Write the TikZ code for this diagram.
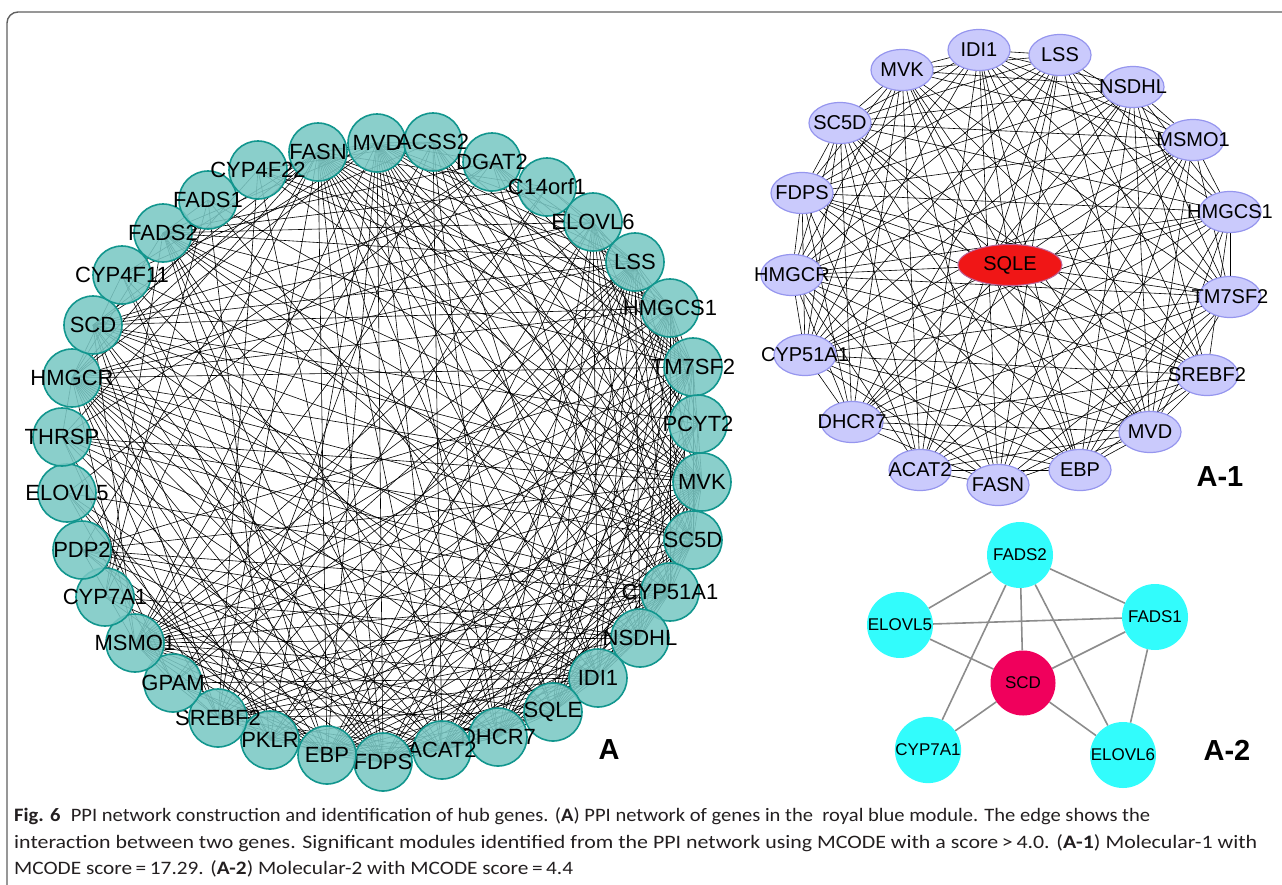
\documentclass[tikz,border=0pt]{standalone}
\usepackage{graphicx}
\usepackage{fontspec}
\setmainfont{Liberation Sans}
\newfontfamily\capfont{Carlito}
\usetikzlibrary{shapes.geometric,backgrounds}
\definecolor{tealfill}{RGB}{122,200,196}
\definecolor{tealdraw}{RGB}{18,150,142}
\definecolor{lavfill}{RGB}{202,202,252}
\definecolor{lavdraw}{RGB}{150,150,238}
\definecolor{sqlered}{RGB}{240,22,22}
\definecolor{cyannode}{RGB}{50,252,252}
\definecolor{scdred}{RGB}{240,0,92}
\definecolor{grayedge}{RGB}{140,140,140}
\definecolor{captext}{RGB}{35,31,32}
\definecolor{framegray}{RGB}{95,95,95}
\begin{document}
\begin{tikzpicture}[x=1pt,y=-1pt,
  anode/.style={circle,minimum size=58pt,inner sep=0pt,fill=tealfill,fill opacity=0.88,text opacity=1,draw=tealdraw,draw opacity=1,line width=1.6pt,font=\fontsize{22}{22}\selectfont},
  aedge/.style={line width=0.6pt,black},
  bnode/.style={ellipse,minimum width=62pt,minimum height=41pt,inner sep=0pt,fill=lavfill,draw=lavdraw,line width=1.2pt,font=\fontsize{20}{20}\selectfont},
  hubnode/.style={ellipse,minimum width=104pt,minimum height=41pt,inner sep=0pt,fill=sqlered,draw=lavdraw!60!sqlered,line width=1pt,font=\fontsize{20}{20}\selectfont},
  bedge/.style={line width=0.6pt,black},
  cnode/.style={circle,minimum size=66pt,inner sep=0pt,fill=cyannode,font=\fontsize{17}{17}\selectfont},
  scdnode/.style={circle,minimum size=65pt,inner sep=0pt,fill=scdred,font=\fontsize{17}{17}\selectfont},
  cedge/.style={line width=1.6pt,grayedge},
  panel/.style={font=\bfseries\fontsize{29}{29}\selectfont},
  captxt/.style={anchor=base west,inner sep=0pt,text=captext,font=\capfont\fontsize{19}{19}\selectfont},
  frame/.style={draw=framegray,line width=1.4pt,rounded corners=11pt}
]
\useasboundingbox (0,0) rectangle (1282,884);
\draw[frame] (7,12) rectangle (1330,930);

% ---------- Network A ----------
\foreach \lab/\x/\y/\w [count=\i] in {
  FASN/318/152/1, MVD/377/143/1, ACSS2/433/142/0.5, DGAT2/492/162/0.45,
  C14orf1/547/187/0.4, ELOVL6/593/222/0.6, LSS/635/262/1, HMGCS1/670/308/1,
  TM7SF2/693/367/1, PCYT2/698/424/0.45, MVK/702/482/1, SC5D/693/540/1,
  CYP51A1/670/592/1, NSDHL/640/638/1, IDI1/598/678/1, SQLE/553/712/1,
  DHCR7/498/737/1, ACAT2/442/750/1, FDPS/383/762/1, EBP/327/755/1,
  PKLR/270/740/0.4, SREBF2/218/718/1, GPAM/173/683/0.4, MSMO1/135/643/1,
  CYP7A1/105/597/0.5, PDP2/82/550/0.35, ELOVL5/67/493/0.5, THRSP/62/437/0.45,
  HMGCR/72/378/1, SCD/93/325/0.6, CYP4F11/122/275/0.35, FADS2/163/233/0.5,
  FADS1/208/200/0.45, CYP4F22/258/170/0.35} {
  \node[anode] (a\i) at (\x,\y) {\makebox[0pt]{\lab}};
  \expandafter\xdef\csname aw\i\endcsname{\w}
}
\begin{pgfonlayer}{background}
\pgfmathsetseed{4711}
\foreach \i in {1,...,33} {
  \pgfmathtruncatemacro\mys{\i+1}
  \foreach \j in {\mys,...,34} {
    \edef\wi{\csname aw\i\endcsname}\edef\wj{\csname aw\j\endcsname}
    \pgfmathsetmacro\myp{\wi*\wj*0.97}
    \pgfmathsetmacro\myr{rnd}
    \ifdim\myr pt<\myp pt \draw[aedge] (a\i.center) -- (a\j.center); \fi
  }
}
\end{pgfonlayer}
\node[panel] (labA) at (609,750) {A};

% ---------- Network A-1 ----------
\node[hubnode] (hub) at (1010,265) {SQLE};
\foreach \lab/\x/\y [count=\i] in {
  IDI1/979/50, LSS/1060/55, NSDHL/1133/87, MSMO1/1193/140, HMGCS1/1230/212,
  TM7SF2/1230/297, SREBF2/1207/375, MVD/1150/432, EBP/1080/470, FASN/998/485,
  ACAT2/920/470, DHCR7/852/422, CYP51A1/805/355, HMGCR/792/275, FDPS/802/193,
  SC5D/840/123, MVK/902/70} {
  \node[bnode] (b\i) at (\x,\y) {\makebox[0pt]{\lab}};
}
\begin{pgfonlayer}{background}
\pgfmathsetseed{2024}
\foreach \i in {1,...,16} {
  \pgfmathtruncatemacro\mys{\i+1}
  \foreach \j in {\mys,...,17} {
    \pgfmathsetmacro\myr{rnd}
    \ifdim\myr pt<0.9pt \draw[bedge] (b\i.center) -- (b\j.center); \fi
  }
}
\foreach \i in {1,...,17} {
  \pgfmathsetmacro\myr{rnd}
  \ifdim\myr pt<0.8pt \draw[bedge] (hub.center) -- (b\i.center); \fi
}
\end{pgfonlayer}
\node[panel] (labA1) at (1220,477) {A-1};

% ---------- Network A-2 ----------
\node[cnode] (fads2) at (1020,555) {FADS2};
\node[cnode] (elovl5) at (900,625) {ELOVL5};
\node[cnode] (fads1) at (1155,617) {FADS1};
\node[scdnode] (scd) at (1023,683) {SCD};
\node[cnode] (cyp7a1) at (928,750) {CYP7A1};
\node[cnode] (elovl6) at (1123,755) {ELOVL6};
\begin{pgfonlayer}{background}
\foreach \u/\v in {fads2/elovl5, fads2/fads1, fads2/scd, fads2/cyp7a1, fads2/elovl6,
  elovl5/fads1, elovl5/scd, fads1/scd, fads1/elovl6, scd/cyp7a1, scd/elovl6}
  \draw[cedge] (\u) -- (\v);
\end{pgfonlayer}
\node[panel] (labA2) at (1227,750) {A-2};

% ---------- Caption ----------
\node[captxt] (cap1) at (14,821) {\resizebox{1136pt}{\height}{\textbf{Fig. 6}\enspace PPI network construction and identification of hub genes. (\textbf{A}) PPI network of genes in the\ \ royal blue module. The edge shows the}};
\node[captxt] (cap2) at (14,848) {\resizebox{1243pt}{\height}{interaction between two genes. Significant modules identified from the PPI network using MCODE with a score\,>\,4.0. (\textbf{A-1}) Molecular-1 with}};
\node[captxt] (cap3) at (14,874) {\resizebox{559pt}{\height}{MCODE score\,=\,17.29. (\textbf{A-2}) Molecular-2 with MCODE score\,=\,4.4}};
\end{tikzpicture}
\end{document}
